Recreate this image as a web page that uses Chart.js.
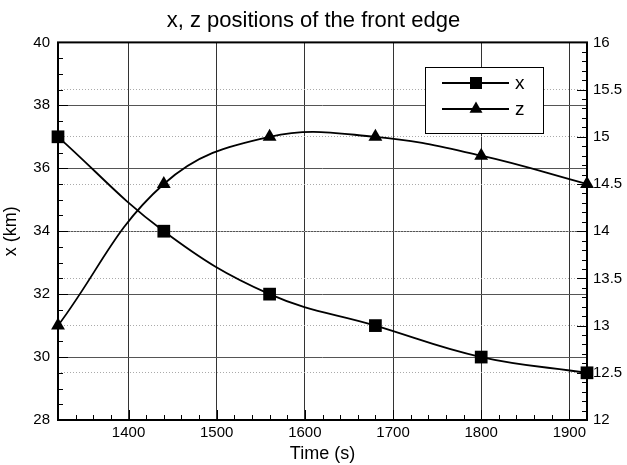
<!DOCTYPE html>
<html>
<head>
<meta charset="utf-8">
<script src="https://cdn.jsdelivr.net/npm/chart.js@4/dist/chart.umd.min.js"></script>
<style>
  html, body { margin: 0; padding: 0; background: #fff; }
  #wrap { width: 627px; height: 465px; }
</style>
</head>
<body>
<div id="wrap"><canvas id="c" width="627" height="465"></canvas></div>
<script>
// data
const times = [1320, 1440, 1560, 1680, 1800, 1920];
const xKm = [37, 34, 32, 31, 30, 29.5];
const zKm = [13, 14.5, 15, 15, 14.8, 14.5];
const seriesNames = ['x', 'z'];
const timeTicks = [1400, 1500, 1600, 1700, 1800, 1900];

const FONT = 'Liberation Sans, Arial, sans-serif';

const pts = (vals) => times.map((t, i) => ({ x: t, y: vals[i] }));

// minor ticks, drawn inward, plus a heavy frame
const frameTicks = {
  id: 'frameTicks',
  afterDatasetsDraw(chart) {
    const { ctx, chartArea: a, scales } = chart;
    ctx.save();
    ctx.strokeStyle = '#000';
    ctx.lineWidth = 1;
    const xs = scales.x, yl = scales.y, yr = scales.y2;
    ctx.beginPath();
    for (let v = 1320; v <= 1920; v += 20) {
      const p = Math.round(xs.getPixelForValue(v)) + 0.5;
      const len = v % 100 === 0 ? 10 : 5;
      ctx.moveTo(p, a.bottom); ctx.lineTo(p, a.bottom - len);
    }
    for (let v = 28; v <= 40; v += 0.5) {
      const p = Math.round(yl.getPixelForValue(v)) + 0.5;
      const len = v % 2 === 0 ? 10 : 5;
      ctx.moveTo(a.left, p); ctx.lineTo(a.left + len, p);
    }
    for (let k = 120; k <= 160; k += 1) {
      const p = Math.round(yr.getPixelForValue(k / 10)) + 0.5;
      const len = k % 5 === 0 ? 10 : 5;
      ctx.moveTo(a.right, p); ctx.lineTo(a.right - len, p);
    }
    ctx.stroke();
    ctx.lineWidth = 2;
    ctx.strokeRect(a.left, a.top, a.right - a.left, a.bottom - a.top);
    ctx.restore();
  }
};

// legend box inside the plot, top right
const boxLegend = {
  id: 'boxLegend',
  afterDraw(chart) {
    const { ctx, chartArea: a } = chart;
    const bx = Math.round(a.left + (a.right - a.left) * 0.694);
    const by = Math.round(a.top + (a.bottom - a.top) * 0.066);
    const bw = 118, bh = 66;
    ctx.save();
    ctx.fillStyle = '#fff';
    ctx.fillRect(bx, by, bw, bh);
    ctx.strokeStyle = '#000';
    ctx.lineWidth = 1;
    ctx.strokeRect(bx + 0.5, by + 0.5, bw, bh);
    chart.data.datasets.forEach((ds, i) => {
      const ly = by + 16 + i * 26;
      ctx.beginPath();
      ctx.lineWidth = 1.8;
      ctx.strokeStyle = '#000';
      ctx.moveTo(bx + 17, ly); ctx.lineTo(bx + 84, ly);
      ctx.stroke();
      ctx.fillStyle = '#000';
      Chart.helpers.drawPoint(ctx, {
        pointStyle: ds.pointStyle, radius: ds.pointRadius - 0.5, borderWidth: 0
      }, bx + 51, ly);
      ctx.fillStyle = '#000';
      ctx.font = '19px ' + FONT;
      ctx.textBaseline = 'middle';
      ctx.fillText(seriesNames[i], bx + 90, ly + 1);
    });
    ctx.restore();
  }
};

new Chart(document.getElementById('c'), {
  type: 'line',
  data: {
    datasets: [
      {
        label: seriesNames[0], data: pts(xKm), yAxisID: 'y',
        borderColor: '#000', backgroundColor: '#000', borderWidth: 1.8,
        pointStyle: 'rect', pointRadius: 9, pointBorderWidth: 0,
        tension: 0.4, clip: false
      },
      {
        label: seriesNames[1], data: pts(zKm), yAxisID: 'y2',
        borderColor: '#000', backgroundColor: '#000', borderWidth: 1.8,
        pointStyle: 'triangle', pointRadius: 8, pointBorderWidth: 0,
        tension: 0.4, clip: false
      }
    ]
  },
  options: {
    responsive: false,
    animation: false,
    layout: { padding: 0 },
    plugins: {
      legend: { display: false },
      tooltip: { enabled: false },
      title: {
        display: true,
        text: 'x, z positions of the front edge',
        color: '#000',
        font: { family: FONT, size: 22, weight: 'normal' },
        padding: { top: 8, bottom: 8 }
      }
    },
    scales: {
      x: {
        type: 'linear', min: 1320, max: 1920,
        afterFit: (s) => { s.height = 45; },
        afterBuildTicks: (s) => { s.ticks = timeTicks.map(v => ({ value: v })); },
        ticks: {
          color: '#000', font: { family: FONT, size: 15 }, padding: 4,
          callback: (v) => String(v)
        },
        grid: { color: '#333', lineWidth: 1, drawTicks: false },
        border: { display: false },
        title: {
          display: true, text: 'Time (s)', color: '#000',
          font: { family: FONT, size: 18 }, padding: { top: 1, bottom: 0 }
        }
      },
      y: {
        type: 'linear', position: 'left', min: 28, max: 40,
        afterFit: (s) => { s.width = 58; },
        ticks: {
          stepSize: 2, color: '#000',
          font: { family: FONT, size: 15 }, padding: 8
        },
        grid: { color: '#555', lineWidth: 1, drawTicks: false },
        border: { display: false },
        title: {
          display: true, text: 'x (km)', color: '#000',
          font: { family: FONT, size: 18 }, padding: { top: 0, bottom: 4 }
        }
      },
      y2: {
        type: 'linear', position: 'right', min: 12, max: 16,
        afterFit: (s) => { s.width = 40; },
        ticks: {
          stepSize: 0.5, color: '#000',
          font: { family: FONT, size: 15 }, padding: 6,
          callback: (v) => String(v)
        },
        grid: { color: '#aaa', lineWidth: 1, drawTicks: false },
        border: { display: false, dash: [1, 2] }
      }
    }
  },
  plugins: [frameTicks, boxLegend]
});
</script>
</body>
</html>
